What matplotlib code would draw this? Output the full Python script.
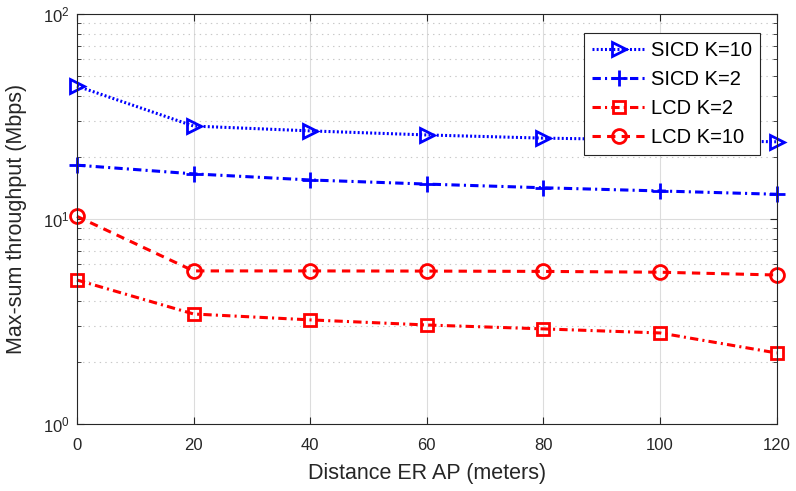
import matplotlib.pyplot as plt
import numpy as np

plt.rcParams['font.family'] = ['Liberation Sans', 'DejaVu Sans']
plt.rcParams['font.size'] = 12
plt.rcParams['mathtext.fontset'] = 'custom'
plt.rcParams['mathtext.rm'] = 'Liberation Sans'
plt.rcParams['mathtext.it'] = 'Liberation Sans'
plt.rcParams['lines.scale_dashes'] = False

# data
distance = [0, 20, 40, 60, 80, 100, 120]
sicd_k10 = [44.5, 28.4, 26.9, 25.7, 24.8, 24.3, 23.8]
sicd_k2 = [18.3, 16.6, 15.5, 14.8, 14.2, 13.7, 13.2]
lcd_k2 = [5.04, 3.44, 3.22, 3.04, 2.91, 2.78, 2.22]
lcd_k10 = [10.3, 5.58, 5.58, 5.57, 5.55, 5.5, 5.33]

fig = plt.figure(figsize=(7.96, 4.91), dpi=100)
ax = fig.add_axes([0.0967, 0.1365, 0.879, 0.835])

DOT = (0, (1.4, 1.6))
DASHDOT = (0, (6, 3, 1.5, 3))
DASH = (0, (6, 4.5))

kw = dict(linewidth=2.2, markerfacecolor='none', markeredgewidth=2, clip_on=False)
ax.plot(distance, sicd_k10, linestyle=DOT, marker='>', markersize=10, color='#0000ff',
        label='SICD K=10', **kw)
ax.plot(distance, sicd_k2, linestyle=DASHDOT, marker='+', markersize=12, color='#0000ff',
        label='SICD K=2', **kw)
ax.plot(distance, lcd_k2, linestyle=DASHDOT, marker='s', markersize=8, color='#ff0000',
        label='LCD K=2', **kw)
ax.plot(distance, lcd_k10, linestyle=DASH, marker='o', markersize=10, color='#ff0000',
        label='LCD K=10', **kw)

ax.set_yscale('log')
ax.set_ylim(1, 100)
ax.set_xlim(0, 120)
ax.set_xticks(distance)
ax.set_xlabel('Distance ER AP (meters)', color='#262626', fontsize=15.5, labelpad=7)
ax.set_ylabel('Max-sum throughput (Mbps)', color='#262626', fontsize=15.5)
ax.yaxis.set_label_coords(-0.071, 0.5)

ax.grid(True, which='major', color='#dcdcdc', linestyle='-', linewidth=0.8)
ax.grid(True, which='minor', axis='y', color='#c8c8c8', linestyle=(0, (1, 3)), linewidth=0.8)
ax.set_axisbelow(True)
ax.tick_params(which='both', direction='in', top=True, right=True, colors='#262626',
               labelsize=12)
ax.tick_params(which='major', length=5)
ax.tick_params(which='minor', length=3)
ax.tick_params(axis='x', pad=10)
ax.tick_params(axis='y', pad=5)
for s in ax.spines.values():
    s.set_color('#262626')
    s.set_linewidth(0.8)

leg = ax.legend(loc='upper right', bbox_to_anchor=(0.976, 0.954), borderaxespad=0,
                fancybox=False, edgecolor='#262626', handlelength=2.6, fontsize=14.5,
                borderpad=0.4, labelspacing=0.5, handletextpad=0.3, framealpha=1)
leg.get_frame().set_linewidth(0.8)

fig.savefig('out.png', dpi=100)
